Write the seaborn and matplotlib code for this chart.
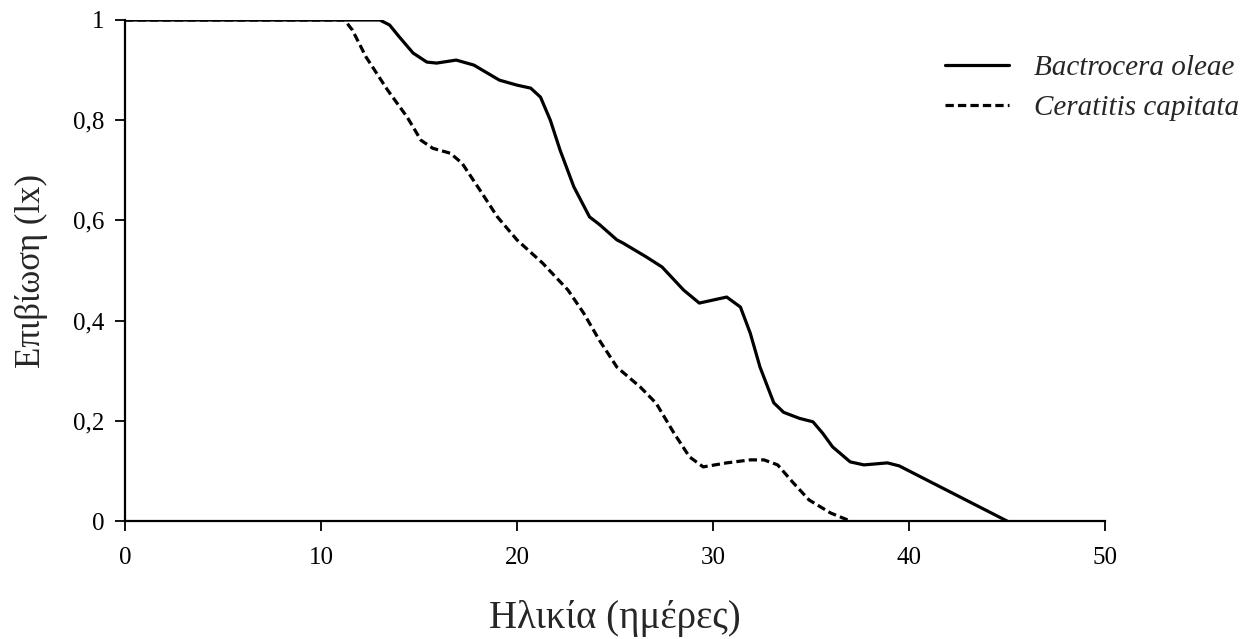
import matplotlib
matplotlib.use("Agg")
import matplotlib.pyplot as plt
import seaborn as sns
import pandas as pd
from matplotlib.ticker import FuncFormatter

# Bactrocera oleae survival
oleae_age = [0, 13.0, 13.5, 14.0, 14.7, 15.4, 15.9, 16.9, 17.8, 19.1, 20.0, 20.7,
             21.2, 21.7, 22.2, 22.9, 23.7, 24.2, 25.1, 25.4, 26.6, 27.4, 28.5,
             29.3, 30.0, 30.7, 31.4, 31.9, 32.4, 33.1, 33.6, 34.4, 35.1, 35.6,
             36.1, 37.0, 37.7, 38.9, 39.5, 40.4, 45.0]
oleae_lx = [1.0, 1.0, 0.99, 0.966, 0.934, 0.916, 0.914, 0.92, 0.91, 0.88, 0.87, 0.864,
            0.846, 0.80, 0.74, 0.667, 0.607, 0.592, 0.561, 0.555, 0.527, 0.507, 0.461,
            0.435, 0.441, 0.447, 0.427, 0.375, 0.307, 0.236, 0.217, 0.205, 0.198, 0.175,
            0.148, 0.118, 0.112, 0.116, 0.110, 0.092, 0.0]

# Ceratitis capitata survival
capitata_age = [0, 11.2, 11.6, 12.3, 13.4, 14.4, 15.1, 15.7, 16.6, 17.2, 18.1, 19.0,
                20.0, 21.3, 22.6, 23.4, 24.2, 25.1, 26.3, 27.1, 28.0, 28.8, 29.5,
                30.7, 31.9, 32.6, 33.3, 34.1, 34.9, 36.0, 37.0]
capitata_lx = [1.0, 1.0, 0.98, 0.926, 0.86, 0.806, 0.76, 0.744, 0.734, 0.714, 0.661, 0.607,
               0.561, 0.515, 0.461, 0.415, 0.361, 0.307, 0.267, 0.235, 0.176, 0.128, 0.108,
               0.116, 0.122, 0.122, 0.112, 0.076, 0.042, 0.016, 0.0]

species = ["Bactrocera oleae", "Ceratitis capitata"]
x_ticks = [0, 10, 20, 30, 40, 50]
y_ticks = [0, 0.2, 0.4, 0.6, 0.8, 1.0]

df = pd.concat([
    pd.DataFrame({"age": oleae_age, "lx": oleae_lx, "species": species[0]}),
    pd.DataFrame({"age": capitata_age, "lx": capitata_lx, "species": species[1]}),
], ignore_index=True)

sns.set_style("ticks")
plt.rcParams["font.family"] = ["Liberation Serif", "DejaVu Serif"]

fig = plt.figure(figsize=(12.59, 6.39), dpi=100)
ax = fig.add_axes([125 / 1259, 118 / 639, 980 / 1259, 501 / 639])

sns.lineplot(data=df, x="age", y="lx", hue="species", style="species",
             palette={species[0]: "black", species[1]: "black"},
             dashes={species[0]: "", species[1]: (2.6, 1.3)},
             estimator=None, sort=False, linewidth=2.3, ax=ax, legend=True)
for ln in ax.get_lines():
    ln.set_solid_joinstyle("round")
    ln.set_dash_joinstyle("round")

ax.set_xlim(0, 50)
ax.set_ylim(0, 1)
ax.set_xticks(x_ticks)
ax.set_yticks(y_ticks)
ax.yaxis.set_major_formatter(FuncFormatter(lambda v, p: ("%g" % v).replace(".", ",")))
ax.tick_params(axis="both", direction="out", length=7, width=1.3, labelsize=18,
               colors="black")
ax.tick_params(axis="x", pad=12)
ax.tick_params(axis="y", pad=8)
for s in ["top", "right"]:
    ax.spines[s].set_visible(False)
for s in ["left", "bottom"]:
    ax.spines[s].set_linewidth(1.6)
    ax.spines[s].set_color("black")

ax.set_xlabel("Ηλικία (ημέρες)", fontsize=28, labelpad=22)
ax.set_ylabel("Επιβίωση (lx)", fontsize=25, labelpad=18)

handles, labels = ax.get_legend_handles_labels()
ax.get_legend().remove()
leg = fig.legend(handles, labels, loc="upper right",
                 bbox_to_anchor=(1245 / 1259, 1 - 49 / 639),
                 frameon=False, borderaxespad=0.0, borderpad=0.2,
                 handlelength=2.2, handletextpad=0.85,
                 labelspacing=0.45, prop={"style": "italic", "size": 21})

fig.savefig("out.png", dpi=100)
